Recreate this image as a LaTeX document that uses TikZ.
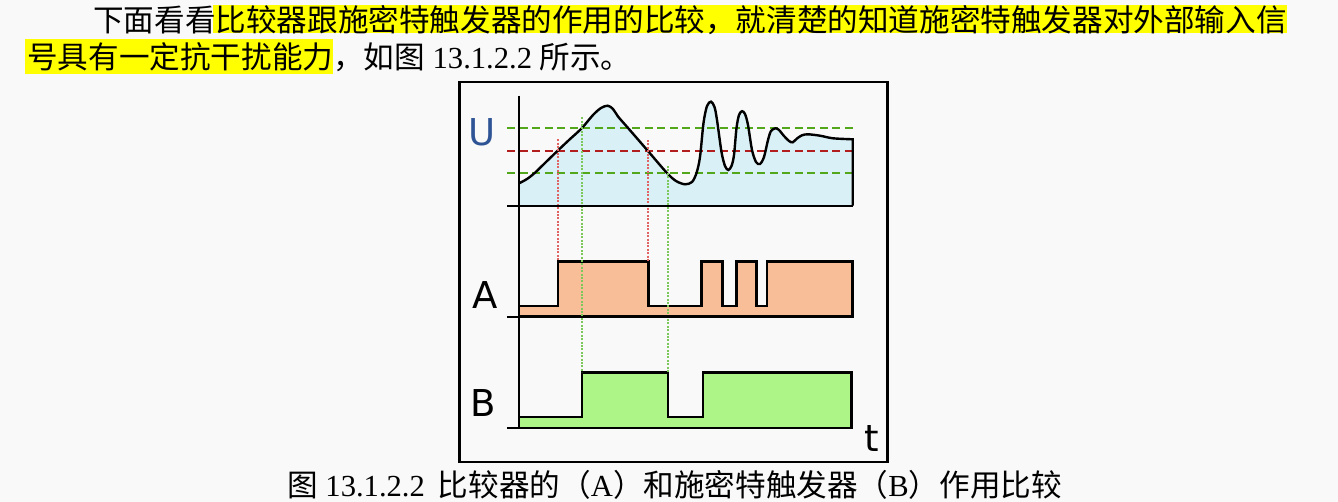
\documentclass[tikz,border=0pt]{standalone}
\usepackage{fontspec}
\setmainfont{Liberation Serif}
\newfontfamily\cjk{Noto Sans CJK SC}
\newfontfamily\lblfont{DejaVu Sans}
\usepackage{xcolor}
\definecolor{pagebg}{RGB}{249,249,249}
\definecolor{hilite}{RGB}{255,255,0}
\definecolor{ufill}{RGB}{218,240,247}
\definecolor{afill}{RGB}{247,190,152}
\definecolor{bfill}{RGB}{173,245,135}
\definecolor{thrgreen}{RGB}{82,168,26}
\definecolor{thrred}{RGB}{178,30,30}
\definecolor{dotred}{RGB}{225,100,100}
\definecolor{dotgreen}{RGB}{125,200,90}
\definecolor{ublue}{RGB}{47,84,150}
\usepackage{tikz}

\tikzset{
  bodytext/.style={anchor=base west, inner sep=0pt, font=\fontsize{30.6}{36}\selectfont},
  axislabel/.style={inner sep=0pt, font=\lblfont\fontsize{37}{40}\selectfont},
  signal/.style={line width=2.4pt, line join=miter},
  axisline/.style={line width=1.8pt},
  thresh/.style={line width=2.2pt, dash pattern=on 8pt off 4.5pt},
  marker/.style={line width=1.9pt, dash pattern=on 2pt off 1.4pt},
}

\begin{document}
\begin{tikzpicture}[x=1pt, y=-1pt]
  \fill[pagebg] (0,0) rectangle (1338,502);
  \useasboundingbox (0,0) rectangle (1338,502);

  % --- text above the figure ---
  \fill[hilite] (213,5) rectangle (1287,33.5);
  \fill[hilite] (25,39.5) rectangle (333,74);
  \node[bodytext] (line1) at (93,31.6) {\cjk 下面看看比较器跟施密特触发器的作用的比较，就清楚的知道施密特触发器对外部输入信};
  \node[bodytext] (line2) at (27,68.3) {{\cjk 号具有一定抗干扰能力，如图} 13.1.2.2 {\cjk 所示。}};

  % --- frame ---
  \draw[line width=2.2pt] (459.5,82) rectangle (887.5,462);

  % --- panel U: input voltage ---
  \fill[ufill] plot[smooth] coordinates {(518.7,183.5) (527,179) (535,172.7) (546,162) (557.7,150.7)
      (569,140) (581.7,128.3) (593,115) (601,108) (607.7,105.7) (613,109) (618,116.5) (628.3,128.3)
      (647.7,150.7) (666.7,172.7) (676,181) (685,184.3) (692,182) (696.5,173) (700,157) (703.5,123)
      (707,106) (711,101.7) (714.5,107) (717,120) (721.5,152) (725,166) (728.3,170) (731.5,166)
      (734,155) (736.5,128) (739,115) (742,111.2) (745,114) (748,125) (752,150) (756,162)
      (760,164) (764,157) (768,140) (771,131) (775.5,128.3) (779,130) (784,136) (789,141)
      (792.7,142.3) (797,138.5) (802,135.3) (808,134.3) (820,135.7) (833,138.3) (852.7,139.3)}
    -- (852.7,205.7) -- (518.7,205.7) -- cycle;
  % thresholds
  \draw[thresh, thrgreen] (507.3,128.3) -- (853.3,128.3);
  \draw[thresh, thrred]   (507.3,150.7) -- (853.3,150.7);
  \draw[thresh, thrgreen] (507.3,172.7) -- (853.3,172.7);
  \draw[signal] plot[smooth] coordinates {(518.7,183.5) (527,179) (535,172.7) (546,162) (557.7,150.7)
      (569,140) (581.7,128.3) (593,115) (601,108) (607.7,105.7) (613,109) (618,116.5) (628.3,128.3)
      (647.7,150.7) (666.7,172.7) (676,181) (685,184.3) (692,182) (696.5,173) (700,157) (703.5,123)
      (707,106) (711,101.7) (714.5,107) (717,120) (721.5,152) (725,166) (728.3,170) (731.5,166)
      (734,155) (736.5,128) (739,115) (742,111.2) (745,114) (748,125) (752,150) (756,162)
      (760,164) (764,157) (768,140) (771,131) (775.5,128.3) (779,130) (784,136) (789,141)
      (792.7,142.3) (797,138.5) (802,135.3) (808,134.3) (820,135.7) (833,138.3) (852.7,139.3)}
    -- (852.7,205.7);

  % --- panel A: comparator ---
  \filldraw[signal, fill=afill] (518.7,306) -- (557.7,306) -- (557.7,261.5) -- (648.3,261.5)
    -- (648.3,306) -- (701.5,306) -- (701.5,261.5) -- (722.3,261.5) -- (722.3,306) -- (736.5,306)
    -- (736.5,261.5) -- (756.5,261.5) -- (756.5,306) -- (767,306) -- (767,261.5) -- (852.5,261.5)
    -- (852.5,316.7) -- (518.7,316.7) -- cycle;

  % --- panel B: Schmitt trigger ---
  \filldraw[signal, fill=bfill] (518.7,416.8) -- (581.7,416.8) -- (581.7,372.3) -- (667.7,372.3)
    -- (667.7,416.8) -- (702.7,416.8) -- (702.7,372.3) -- (851.5,372.3) -- (851.5,427.7)
    -- (518.7,427.7) -- cycle;

  % switching points
  \draw[marker, dotred]   (557.7,139.3) -- (557.7,261.5);
  \draw[marker, dotred]   (648.3,140) -- (648.3,261.5);
  \draw[marker, dotgreen] (581.7,117.3) -- (581.7,372.3);
  \draw[marker, dotgreen] (667.7,166) -- (667.7,372.3);

  % axes
  \draw[axisline] (518.7,95.7) -- (518.7,428.5);
  \draw[axisline] (507.3,205.7) -- (852.7,205.7);
  \draw[axisline] (507.3,316.7) -- (852.5,316.7);
  \draw[axisline] (507.3,427.7) -- (851.5,427.7);

  % labels
  \node[axislabel, ublue] (ulabel) at (482.5,132) {U};
  \node[axislabel] (alabel) at (484.7,295) {A};
  \node[axislabel] (blabel) at (483,402.7) {B};
  \node[axislabel] (tlabel) at (871.7,439) {t};

  % --- caption ---
  \node[bodytext] (caption) at (287,496.6) {{\cjk 图} 13.1.2.2\hspace{13pt}{\cjk 比较器的（}A{\cjk ）和施密特触发器（}B{\cjk ）作用比较}};
\end{tikzpicture}
\end{document}
